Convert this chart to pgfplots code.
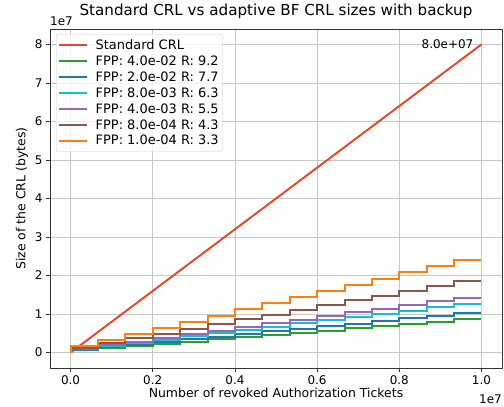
\documentclass[border=0pt]{standalone}
\usepackage{fontspec}
\setmainfont{DejaVu Sans}
\usepackage{pgfplots}
\usepackage{pgfplotstable}
\pgfplotsset{compat=1.18}

\definecolor{cRed}{RGB}{230,72,45}
\definecolor{cGreen}{RGB}{44,160,44}
\definecolor{cBlue}{RGB}{31,119,180}
\definecolor{cCyan}{RGB}{23,190,207}
\definecolor{cPurple}{RGB}{148,103,189}
\definecolor{cBrown}{RGB}{140,86,75}
\definecolor{cOrange}{RGB}{255,127,14}

% sizes in units of 1e7; x = revoked tickets, one step every 1e7/15
\pgfplotstableread{
x       g      b      c      p      br     o
0       0      0      0      0      0      0
0.0667  0.057  0.069  0.084  0.095  0.123  0.16
0.1333  0.115  0.137  0.168  0.191  0.247  0.32
0.2     0.172  0.206  0.252  0.286  0.370  0.48
0.2667  0.229  0.275  0.336  0.381  0.493  0.64
0.3333  0.287  0.343  0.420  0.477  0.617  0.80
0.4     0.344  0.412  0.504  0.572  0.740  0.96
0.4667  0.401  0.481  0.588  0.667  0.863  1.12
0.5333  0.459  0.549  0.672  0.763  0.987  1.28
0.6     0.516  0.618  0.756  0.858  1.110  1.44
0.6667  0.573  0.687  0.840  0.953  1.233  1.60
0.7333  0.631  0.755  0.924  1.049  1.357  1.76
0.8     0.688  0.824  1.008  1.144  1.480  1.92
0.8667  0.745  0.893  1.092  1.239  1.603  2.08
0.9333  0.803  0.961  1.176  1.335  1.727  2.24
1.0     0.860  1.030  1.260  1.430  1.850  2.40
}\bfdata

\begin{document}
\begin{tikzpicture}
\begin{axis}[
  at={(0,0)}, anchor=south west,
  scale only axis, width=452bp, height=339bp,
  xmin=-0.05, xmax=1.05, ymin=-0.4, ymax=8.4,
  xtick={0,0.2,0.4,0.6,0.8,1.0}, ytick={0,1,2,3,4,5,6,7,8},
  scaled ticks=false,
  clip mode=individual,
  xticklabel style={/pgf/number format/.cd,fixed,fixed zerofill,precision=1},
  /pgf/number format/assume math mode=true,
  tick label style={font=\fontsize{12}{13}\selectfont},
  label style={font=\fontsize{12.5}{14}\selectfont},
  title style={font=\fontsize{15.2}{17}\selectfont, at={(0.5,1)}, anchor=base, yshift=8bp},
  title={Standard CRL vs adaptive BF CRL sizes with backup},
  xlabel={Number of revoked Authorization Tickets},
  xlabel style={at={(axis description cs:0.5,0)}, anchor=base, yshift=-29bp},
  ylabel={Size of the CRL (bytes)},
  grid=major, grid style={color=black!22, line width=0.8bp},
  tick align=outside, tick pos=left, major tick length=4bp,
  tick style={black!80, line width=0.8bp},
  axis line style={black!80, line width=0.8bp},
  every axis plot/.append style={line width=2bp},
  legend cell align=left,
  legend image code/.code={\draw[#1] (0bp,0bp) -- (28bp,0bp);},
  legend style={at={(0,1)}, anchor=north west, xshift=6bp, yshift=-5bp,
    draw=black!20, rounded corners=2bp, fill=white, fill opacity=0.8, text opacity=1,
    font=\fontsize{13}{14}\selectfont, row sep=0.9bp, inner xsep=1.5bp, inner ysep=3bp},
]
\addplot[cRed, sharp plot] coordinates {(0,0) (1.0,8.0)};
\addplot[cGreen, const plot mark right] table[x=x, y=g] {\bfdata};
\addplot[cBlue, const plot mark right] table[x=x, y=b] {\bfdata};
\addplot[cCyan, const plot mark right] table[x=x, y=c] {\bfdata};
\addplot[cPurple, const plot mark right] table[x=x, y=p] {\bfdata};
\addplot[cBrown, const plot mark right] table[x=x, y=br] {\bfdata};
\addplot[cOrange, const plot mark right] table[x=x, y=o] {\bfdata};
\legend{\hspace{6bp}Standard CRL, \hspace{6bp}FPP: 4.0e-02 R: 9.2, \hspace{6bp}FPP: 2.0e-02 R: 7.7,
  \hspace{6bp}FPP: 8.0e-03 R: 6.3, \hspace{6bp}FPP: 4.0e-03 R: 5.5,
  \hspace{6bp}FPP: 8.0e-04 R: 4.3, \hspace{6bp}FPP: 1.0e-04 R: 3.3}
\node[anchor=base east, font=\fontsize{12}{13}\selectfont, inner sep=0pt]
  at (axis cs:1.0,8.0) [xshift=-8bp, yshift=-4bp] {8.0e+07};
\node[anchor=base west, font=\fontsize{12}{13}\selectfont, inner sep=0pt]
  at (axis description cs:0,1) [yshift=4bp] {1e7};
\node[anchor=base east, font=\fontsize{12}{13}\selectfont, inner sep=0pt]
  at (axis description cs:1,0) [yshift=-35bp] {1e7};
\end{axis}
\pgfresetboundingbox
\path[use as bounding box] (-50bp,-39bp) rectangle (454bp,368bp);
\end{tikzpicture}
\end{document}
